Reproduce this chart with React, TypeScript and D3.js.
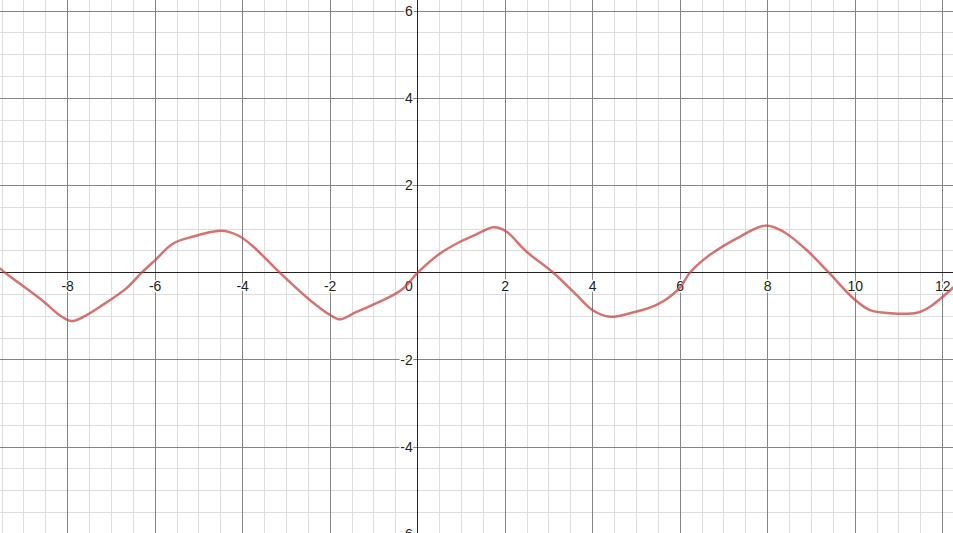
import * as d3 from "d3";

const W = 953;
const H = 533;

// visible window (graph units)
const xDomain = [-9.547, 12.235];
const yDomain = [-5.97, 6.255];

const xTicks = [-8, -6, -4, -2, 0, 2, 4, 6, 8, 10, 12];
const yTicks = [-6, -4, -2, 2, 4, 6];

// curve points
const curveX = [
  -9.55, -9.43, -8.6, -8.15, -7.91, -7.6, -7.26, -6.66, -6.31, -6.0, -5.59, -5.13,
  -4.52, -4.3, -4.06, -3.76, -3.15, -2.46, -2.0, -1.78, -1.4, -0.71, -0.33, 0,
  0.51, 0.97, 1.3, 1.5, 1.7, 1.88, 2.05, 2.49, 3.1, 3.63, 4.0, 4.4, 4.85, 5.46, 5.98,
  6.22, 6.68, 7.37, 7.94, 8.36, 8.89, 9.4, 9.96, 10.34, 10.8, 11.41, 11.71, 12.24,
];
const curveY = [
  0.1, 0, -0.62, -1.0, -1.11, -0.99, -0.78, -0.36, 0, 0.29, 0.67, 0.83,
  0.96, 0.93, 0.83, 0.6, 0, -0.63, -0.97, -1.07, -0.9, -0.59, -0.36, 0,
  0.44, 0.71, 0.86, 0.96, 1.04, 1.02, 0.93, 0.48, 0, -0.51, -0.86, -1.01, -0.93, -0.74, -0.36,
  0, 0.41, 0.83, 1.08, 0.94, 0.52, 0, -0.59, -0.86, -0.93, -0.92, -0.78, -0.34,
];

const App = () => {
  const x = d3.scaleLinear().domain(xDomain).range([0, W]);
  const y = d3.scaleLinear().domain(yDomain).range([H, 0]);

  const minorX = d3.range(Math.ceil(xDomain[0] * 2) / 2, xDomain[1], 0.5);
  const minorY = d3.range(Math.ceil(yDomain[0] * 2) / 2, yDomain[1], 0.5);
  const majorX = minorX.filter((v) => v % 2 === 0);
  const majorY = minorY.filter((v) => v % 2 === 0);

  const points = curveX.map((v, i) => [v, curveY[i]] as [number, number]);
  const line = d3
    .line<[number, number]>()
    .x((d) => x(d[0]))
    .y((d) => y(d[1]))
    .curve(d3.curveCatmullRom.alpha(0.5));

  const halo = {
    stroke: "white",
    strokeWidth: 3,
    paintOrder: "stroke",
    strokeLinejoin: "round" as const,
  };

  return (
    <div style={{ position: "fixed", left: 0, top: 0 }}>
      <svg width={W} height={H} style={{ display: "block", background: "#fff" }}>
        <g shapeRendering="crispEdges">
          {minorX.map((v) => (
            <line key={"mx" + v} x1={x(v)} x2={x(v)} y1={0} y2={H} stroke="#dedede" />
          ))}
          {minorY.map((v) => (
            <line key={"my" + v} x1={0} x2={W} y1={y(v)} y2={y(v)} stroke="#dedede" />
          ))}
          {majorX.map((v) => (
            <line key={"Mx" + v} x1={x(v)} x2={x(v)} y1={0} y2={H} stroke="#858585" />
          ))}
          {majorY.map((v) => (
            <line key={"My" + v} x1={0} x2={W} y1={y(v)} y2={y(v)} stroke="#858585" />
          ))}
          <line x1={x(0)} x2={x(0)} y1={0} y2={H} stroke="#222" strokeWidth={1.5} />
          <line x1={0} x2={W} y1={y(0)} y2={y(0)} stroke="#222" strokeWidth={1.5} />
        </g>
        <g fontFamily="Liberation Sans, Arial, sans-serif" fontSize={14} fill="#222">
          {xTicks.map((v) => (
            <text
              key={"tx" + v}
              x={v === 0 ? x(0) - 5 : x(v)}
              y={y(0) + 18}
              textAnchor={v === 0 ? "end" : "middle"}
              {...halo}
            >
              {v < 0 ? "-" + Math.abs(v) : v}
            </text>
          ))}
          {yTicks.map((v) => (
            <text
              key={"ty" + v}
              x={x(0) - 5}
              y={y(v)}
              dy="0.35em"
              textAnchor="end"
              {...halo}
            >
              {v < 0 ? "-" + Math.abs(v) : v}
            </text>
          ))}
        </g>
        <path
          d={line(points) ?? ""}
          fill="none"
          stroke="#c74440"
          strokeOpacity={0.75}
          strokeWidth={2.5}
          strokeLinejoin="round"
          strokeLinecap="round"
        />
      </svg>
    </div>
  );
};

export default App;
